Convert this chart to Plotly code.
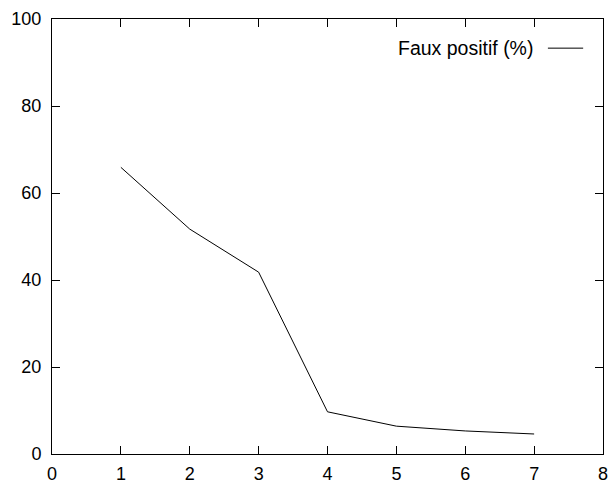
import plotly.graph_objects as go

x_vals = [1, 2, 3, 4, 5, 6, 7]
faux_positif = [65.9, 51.7, 41.8, 9.7, 6.4, 5.3, 4.6]
series_name = "Faux positif (%)"
x_ticks = [0, 1, 2, 3, 4, 5, 6, 7, 8]
y_ticks = [0, 20, 40, 60, 80, 100]

FONT = "Liberation Sans, Arial, Helvetica, sans-serif"

fig = go.Figure()
fig.add_trace(go.Scatter(x=x_vals, y=faux_positif, mode="lines", name=series_name,
                         line=dict(color="black", width=1), showlegend=False))

axis_common = dict(showgrid=False, zeroline=False, showline=True, linecolor="black", linewidth=1,
                   mirror="ticks", ticks="inside", ticklen=8, tickwidth=1, tickcolor="black",
                   automargin=False, ticklabeloverflow="allow",
                   tickfont=dict(family=FONT, size=18, color="black"))

fig.update_xaxes(range=[0, 8], tickvals=x_ticks, ticktext=[str(v) for v in x_ticks],
                 ticklabelstandoff=3, **axis_common)
fig.update_yaxes(range=[0, 100], tickvals=y_ticks, ticktext=[str(v) for v in y_ticks],
                 ticklabelstandoff=6, **axis_common)

# gnuplot-style key: text then sample line on the right
fig.add_annotation(xref="paper", yref="paper", x=0.877, y=0.933, xanchor="right", yanchor="middle",
                   text=series_name, showarrow=False, font=dict(family=FONT, size=19.5, color="black"))
fig.add_shape(type="line", xref="paper", yref="paper", x0=0.900, x1=0.964, y0=0.933, y1=0.933,
              line=dict(color="black", width=1))

fig.update_layout(width=608, height=485, margin=dict(l=52, r=5, t=19, b=31),
                  paper_bgcolor="white", plot_bgcolor="white")

fig.write_html("out.html", config={"displayModeBar": False},
               post_script="document.body.style.margin='0';document.body.style.overflow='hidden';")
